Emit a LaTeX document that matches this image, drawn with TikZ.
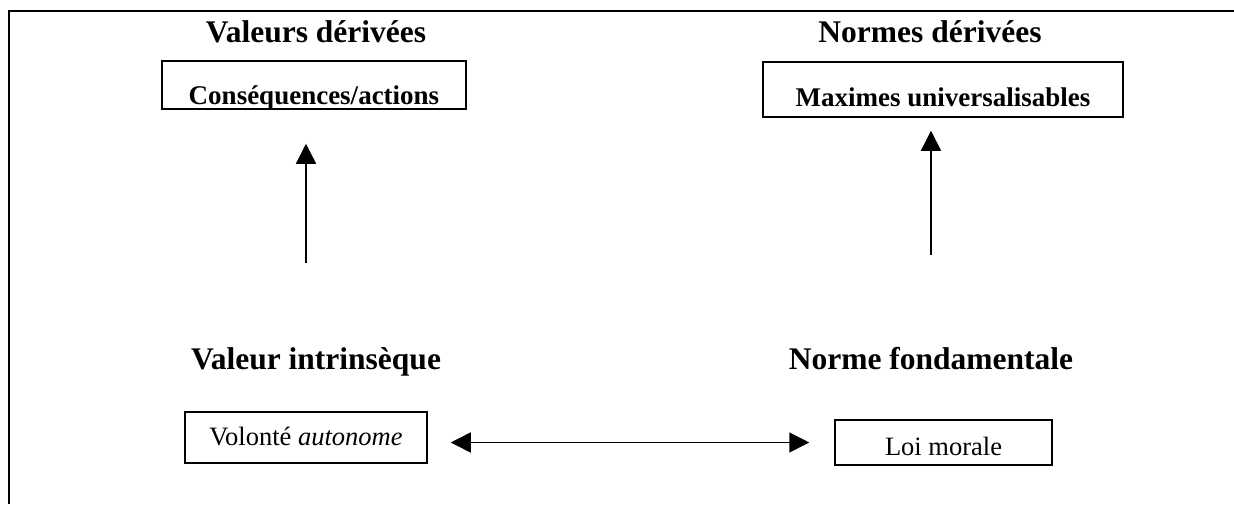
\documentclass[tikz,border=0pt]{standalone}
\usepackage{fontspec}
\setmainfont{Liberation Serif}
\usepackage{tikz}
\usetikzlibrary{shapes,arrows.meta,positioning}

\begin{document}
\begin{tikzpicture}[x=1pt,y=-1pt]

\tikzstyle{heading} = [anchor=base, inner sep=0pt, font=\fontsize{31.5}{36}\selectfont\bfseries]
\tikzstyle{derived} = [rectangle, draw=black, line width=1.5pt, anchor=base, inner xsep=0pt, inner ysep=2pt, font=\fontsize{27}{30}\selectfont\bfseries]
\tikzstyle{basis} = [rectangle, draw=black, line width=1.5pt, anchor=base, inner xsep=0pt, inner ysep=2pt, font=\fontsize{26.5}{30}\selectfont]
\tikzstyle{arrow} = [line width=1.5pt, -{Triangle[length=20pt,width=20pt]}]
\tikzstyle{twoway} = [line width=1.5pt, {Triangle[length=20pt,width=20pt]}-{Triangle[length=20pt,width=20pt]}]

\useasboundingbox (0,0) rectangle (1234,504);
\draw [line width=2.5pt] (1234,11) -- (9,11) -- (9,504);

% derived level
\node (valder) [heading] at (316,42) {Valeurs dérivées};
\node (normder) [heading] at (930,42) {Normes dérivées};
\node (conseq) [derived, minimum width=304pt, text height=41pt, text depth=3pt] at (314,104) {Conséquences/actions};
\node (maximes) [derived, minimum width=360pt, text height=42pt, text depth=9pt] at (943,106) {Maximes universalisables};

% fundamental level
\node (valintr) [heading] at (316,369) {Valeur intrinsèque};
\node (normfond) [heading] at (931,369) {Norme fondamentale};
\node (volonte) [basis, minimum width=242pt, text height=31pt, text depth=16pt] at (306,445) {Volonté \textit{autonome}};
\node (loi) [basis, minimum width=217pt, text height=33pt, text depth=8pt] at (943.5,455) {Loi morale};

\coordinate (leftfoot) at (306,263);
\coordinate (rightfoot) at (931,255);

\draw [arrow, shorten >=34pt] (leftfoot) -- (leftfoot |- conseq.south);
\draw [arrow, shorten >=13pt] (rightfoot) -- (rightfoot |- maximes.south);
\draw [twoway, shorten <=23pt, shorten >=25pt] (volonte.east |- loi.west) -- (loi.west);

\end{tikzpicture}
\end{document}
